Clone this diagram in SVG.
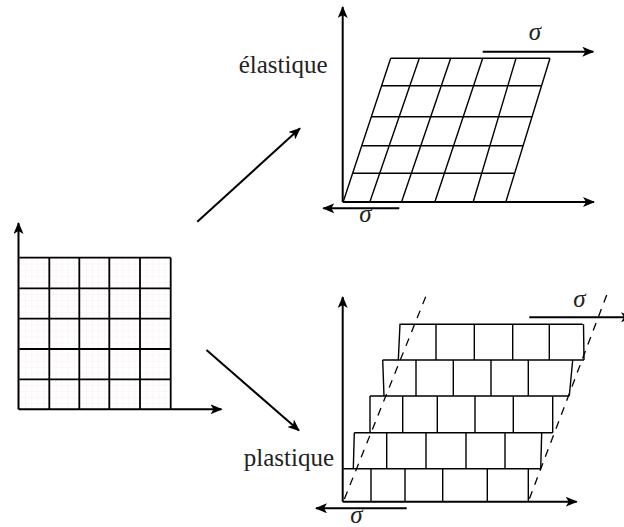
<svg xmlns="http://www.w3.org/2000/svg" width="624" height="527" viewBox="0 0 624 527">
<style>
.ax{stroke:#000;stroke-width:2;fill:none}
.gr{stroke:#000;stroke-width:1.4;fill:none}
.grb{stroke:#000;stroke-width:1.8;fill:none}
.pk{stroke:#f8eaef;stroke-width:0.8;fill:none}
.ds{stroke:#000;stroke-width:1.3;fill:none;stroke-dasharray:8 7}
.lbl{font-family:"Liberation Serif","Times New Roman",serif;font-size:25px;fill:#222}
.sig{font-family:"Liberation Serif","Times New Roman",serif;font-size:25px;font-style:italic;fill:#222}
</style>
<defs>
<marker id="ah" markerUnits="userSpaceOnUse" markerWidth="12" markerHeight="10" refX="11" refY="5" orient="auto">
<path d="M0,0 L12,5 L0,10 L3,5 z" fill="#000"/>
</marker>
<pattern id="pink" x="19.3" y="257.7" width="6.06" height="6.06" patternUnits="userSpaceOnUse">
<path d="M0,0 H6.06 M0,0 V6.06" class="pk"/>
</pattern>
</defs>

<g id="initial">
<rect x="19.3" y="257.7" width="151.4" height="151.6" fill="url(#pink)"/>
<path class="grb" d="M19.3,257.7 H170.7 M19.3,288.3 H170.7 M19.3,318.7 H170.7 M19.3,349 H170.7 M19.3,379.3 H170.7 M49.3,257.7 V409.3 M79.3,257.7 V409.3 M109.3,257.7 V409.3 M140,257.7 V409.3 M170.7,257.7 V409.3"/>
<path class="ax" d="M18.5,409.3 V223" marker-end="url(#ah)"/>
<path class="ax" d="M18.5,409.3 H221.5" marker-end="url(#ah)"/>
</g>

<g id="connectors">
<path class="ax" d="M197.3,221.7 L300,128.3" marker-end="url(#ah)"/>
<path class="ax" d="M206.5,350 L299,430.5" marker-end="url(#ah)"/>
</g>

<g id="elastic">
<path class="gr" d="M390.7,58.3 H550 M381.6,85.7 H541.5 M371.3,116.7 H532 M361.7,145.7 H523 M352.5,173.3 H514.5"/>
<path class="gr" d="M390.7,58.3 L343.3,201.5 M419.3,58.3 L370,201.5 M450.7,58.3 L401.7,201.5 M482.7,58.3 L435,201.5 M516,58.3 L473.3,201.5 M550,58.3 L506,201.5"/>
<path class="ax" d="M342.7,202 V7" marker-end="url(#ah)"/>
<path class="ax" d="M342.7,202 H594" marker-end="url(#ah)"/>
<path class="ax" d="M399.3,208.3 H323.3" marker-end="url(#ah)"/>
<path class="ax" d="M482.7,51.7 H593.3" marker-end="url(#ah)"/>
<text class="lbl" x="327.5" y="73" text-anchor="end">élastique</text>
<text class="sig" x="535" y="40" text-anchor="middle">σ</text>
<text class="sig" x="365.5" y="221.5" text-anchor="middle">σ</text>
</g>

<g id="plastic">
<path class="gr" d="M398.3,360 L400,324.3 H582.7 M583.5,324.3 L584,360 M436,324.3 V360 M474.3,324.3 V360 M512.7,324.3 V360 M549.3,324.3 V360"/>
<path class="gr" d="M382.7,360 H584 M382.7,360 L384,396 M572.7,360 L569.3,396 M416,360 V396 M453.3,360 V396 M491,360 V396 M528.3,360 V396"/>
<path class="gr" d="M370,396 H569.3 M370,396 V432.7 M552.7,396 V432.7 M402.7,396 V432.7 M437.3,396 V432.7 M475,396 V432.7 M513.3,396 V432.7"/>
<path class="gr" d="M354.3,432.7 H552.7 M354.3,432.7 L353.3,468.7 M541.7,432.7 L540.7,468.7 M386.7,432.7 V468.7 M426,432.7 V468.7 M466,432.7 V468.7 M505,432.7 V468.7"/>
<path class="gr" d="M343.3,468.7 H540.7 M528.3,468.7 V501.7 M371,468.7 V501.7 M405,468.7 V501.7 M442.7,468.7 V501.7 M487.3,468.7 V501.7"/>
<path class="ds" d="M425.7,296.7 L343.3,501.7"/>
<path class="ds" d="M606.7,295 L528.3,501.7"/>
<path class="ax" d="M342.7,501.7 V297" marker-end="url(#ah)"/>
<path class="ax" d="M342.7,501.7 H576.7" marker-end="url(#ah)"/>
<path class="ax" d="M406.7,508.3 H316" marker-end="url(#ah)"/>
<path class="ax" d="M529.3,317.3 H632" marker-end="url(#ah)"/>
<text class="lbl" x="334" y="466" text-anchor="end">plastique</text>
<text class="sig" x="579.5" y="306.5" text-anchor="middle">σ</text>
<text class="sig" x="356.3" y="523" text-anchor="middle">σ</text>
</g>
</svg>
